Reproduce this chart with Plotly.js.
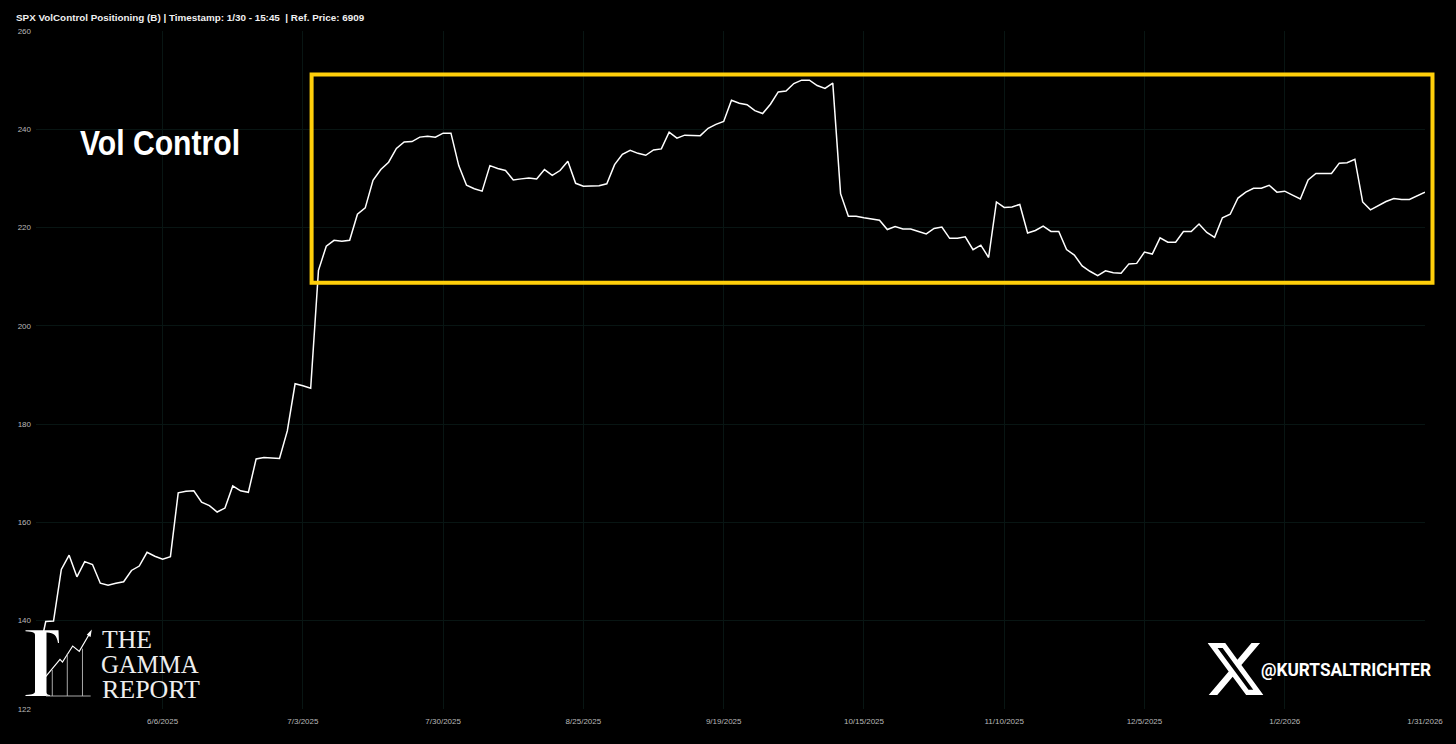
<!DOCTYPE html>
<html>
<head>
<meta charset="utf-8">
<script src="https://cdn.plot.ly/plotly-3.0.1.min.js"></script>
<style>html,body{margin:0;padding:0;background:#000;overflow:hidden}#chart{width:1456px;height:744px}</style>
</head>
<body>
<div id="chart"></div>
<script>
var chartTitle = "SPX VolControl Positioning (B) | Timestamp: 1/30 - 15:45  | Ref. Price: 6909";
var dates = [
"5/14/2025","5/15/2025","5/16/2025","5/19/2025","5/20/2025","5/21/2025","5/22/2025","5/23/2025","5/27/2025","5/28/2025","5/29/2025","5/30/2025","6/2/2025","6/3/2025","6/4/2025","6/5/2025",
"6/6/2025","6/9/2025","6/10/2025","6/11/2025","6/12/2025","6/13/2025","6/16/2025","6/17/2025","6/18/2025","6/20/2025","6/23/2025","6/24/2025","6/25/2025","6/26/2025","6/27/2025","6/30/2025","7/1/2025","7/2/2025",
"7/3/2025","7/7/2025","7/8/2025","7/9/2025","7/10/2025","7/11/2025","7/14/2025","7/15/2025","7/16/2025","7/17/2025","7/18/2025","7/21/2025","7/22/2025","7/23/2025","7/24/2025","7/25/2025","7/28/2025","7/29/2025",
"7/30/2025","7/31/2025","8/1/2025","8/4/2025","8/5/2025","8/6/2025","8/7/2025","8/8/2025","8/11/2025","8/12/2025","8/13/2025","8/14/2025","8/15/2025","8/18/2025","8/19/2025","8/20/2025","8/21/2025","8/22/2025",
"8/25/2025","8/26/2025","8/27/2025","8/28/2025","8/29/2025","9/2/2025","9/3/2025","9/4/2025","9/5/2025","9/8/2025","9/9/2025","9/10/2025","9/11/2025","9/12/2025","9/15/2025","9/16/2025","9/17/2025","9/18/2025",
"9/19/2025","9/22/2025","9/23/2025","9/24/2025","9/25/2025","9/26/2025","9/29/2025","9/30/2025","10/1/2025","10/2/2025","10/3/2025","10/6/2025","10/7/2025","10/8/2025","10/9/2025","10/10/2025","10/13/2025","10/14/2025",
"10/15/2025","10/16/2025","10/17/2025","10/20/2025","10/21/2025","10/22/2025","10/23/2025","10/24/2025","10/27/2025","10/28/2025","10/29/2025","10/30/2025","10/31/2025","11/3/2025","11/4/2025","11/5/2025","11/6/2025","11/7/2025",
"11/10/2025","11/11/2025","11/12/2025","11/13/2025","11/14/2025","11/17/2025","11/18/2025","11/19/2025","11/20/2025","11/21/2025","11/24/2025","11/25/2025","11/26/2025","11/28/2025","12/1/2025","12/2/2025","12/3/2025","12/4/2025",
"12/5/2025","12/8/2025","12/9/2025","12/10/2025","12/11/2025","12/12/2025","12/15/2025","12/16/2025","12/17/2025","12/18/2025","12/19/2025","12/22/2025","12/23/2025","12/24/2025","12/26/2025","12/29/2025","12/30/2025","12/31/2025",
"1/2/2026","1/5/2026","1/6/2026","1/7/2026","1/8/2026","1/9/2026","1/12/2026","1/13/2026","1/14/2026","1/15/2026","1/16/2026","1/20/2026","1/21/2026","1/22/2026","1/23/2026","1/26/2026","1/27/2026","1/28/2026",
"1/31/2026"];
var positioning = [
132.4,139.8,139.9,150.4,153.3,148.9,152.0,151.4,147.6,147.2,147.6,147.9,150.2,151.1,153.9,153.1,
152.5,153.0,166.0,166.3,166.4,164.1,163.4,162.1,162.9,167.4,166.4,166.1,172.9,173.2,173.1,173.0,178.6,188.2,
187.8,187.3,211.3,216.2,217.4,217.2,217.4,222.7,224.0,229.6,231.8,233.3,236.1,237.4,237.5,238.4,238.6,238.4,
239.2,239.2,232.6,228.6,227.9,227.4,232.6,232.0,231.6,229.7,229.9,230.1,229.9,231.8,230.6,231.6,233.5,229.0,
228.4,228.4,228.5,228.9,232.8,234.9,235.7,235.1,234.7,235.8,236.0,239.4,238.2,238.8,238.8,238.7,240.2,241.0,
241.6,245.9,245.3,245.0,243.8,243.2,245.1,247.6,247.8,249.3,250.0,250.0,248.9,248.3,249.4,226.9,222.3,222.3,
222.0,221.7,221.5,219.6,220.2,219.7,219.7,219.2,218.7,219.8,220.1,217.8,217.8,218.1,215.5,216.4,213.9,225.2,
224.1,224.2,224.7,218.9,219.4,220.3,219.2,219.2,215.5,214.4,212.2,211.1,210.2,211.2,210.8,210.7,212.6,212.7,
215.0,214.6,217.9,217.0,217.0,219.2,219.2,220.7,219.0,218.0,222.0,222.7,226.0,227.2,228.0,228.0,228.6,227.2,
227.4,226.6,225.8,229.7,231.0,231.0,231.0,233.1,233.2,233.9,225.2,223.6,224.4,225.3,225.9,225.7,225.7,226.5,
227.2];
var xTickLabels = ["6/6/2025","7/3/2025","7/30/2025","8/25/2025","9/19/2025","10/15/2025","11/10/2025","12/5/2025","1/2/2026","1/31/2026"];
var yTickValues = [122,140,160,180,200,220,240,260];

var W=1456,H=744,mL=36,mR=30.5,mT=30.5,mB=35;
function px(x){return (x-mL)/(W-mL-mR);}
function py(y){return 1-(y-mT)/(H-mT-mB);}
function svgUri(s){return "data:image/svg+xml;utf8,"+encodeURIComponent(s);}

var gammaSvg = '<svg xmlns="http://www.w3.org/2000/svg" viewBox="20 625 80 75" width="80" height="75">'+
 '<path fill="#fff" d="M25.5 630.3H58.5L59 643H58C57 636 54 632.5 47 632.5H46.5V692C46.5 694 47.5 694.7 50 695V696H25.5V695C33.5 694.7 35 693.5 35 691V635C35 633 33.5 631.7 25.5 631.3Z"/>'+
 '<path fill="none" stroke="#fff" stroke-width="1.2" d="M44 678.7L60 659.3L62.5 662L72.7 646L79.3 651.3L90 633"/>'+
 '<path fill="#fff" d="M91.8 629.5L90.6 637L86.8 634.6Z"/>'+
 '<path fill="none" stroke="#bbb" stroke-width="0.9" d="M52.3 670V696M67.3 653.7V696M82.5 648.7V696M46 696H90.7"/></svg>';
var xSvg = '<svg xmlns="http://www.w3.org/2000/svg" viewBox="1.25 2.25 21.65 19.5" width="216" height="195" preserveAspectRatio="none"><path fill="#fff" d="M18.244 2.25h3.308l-7.227 8.26 8.502 11.24H16.17l-5.214-6.817L4.99 21.75H1.68l7.73-8.835L1.254 2.25H8.08l4.713 6.231zm-1.161 17.52h1.833L7.084 4.126H5.117z"/></svg>';

function note(text,x,y,size,family,color){
  return {text:text,xref:"paper",yref:"paper",x:px(x),y:py(y),xanchor:"left",yanchor:"middle",showarrow:false,
    font:{family:family,size:size,color:color||"#fff"},borderpad:0,borderwidth:0,align:"left"};
}
var fittedWidths = {"Vol Control":160,"THE":50,"GAMMA":97.5,"REPORT":98,"@KURTSALTRICHTER":170};
var tick = {family:"Liberation Sans",size:8,color:"#b8b8b8"};
var trace={type:"scatter",mode:"lines",x:dates,y:positioning,line:{color:"#ffffff",width:1.5,shape:"linear"},hoverinfo:"x+y"};
var layout={
  width:W,height:H,paper_bgcolor:"#000",plot_bgcolor:"#000",showlegend:false,
  margin:{l:mL,r:mR,t:mT,b:mB,pad:0},
  font:{family:"Liberation Sans",color:"#b8b8b8",size:8},
  xaxis:{type:"category",categoryorder:"array",categoryarray:dates,range:[-0.25,dates.length-1],tickmode:"array",tickvals:xTickLabels,ticktext:xTickLabels,
    showgrid:true,gridcolor:"#081513",gridwidth:1,zeroline:false,showline:false,ticks:"",tickangle:0,tickfont:tick,ticklabelstandoff:6},
  yaxis:{type:"linear",range:[122,260],tickmode:"array",tickvals:yTickValues,showgrid:true,gridcolor:"#081513",gridwidth:1,zeroline:false,showline:false,ticks:"",tickfont:tick,ticklabelstandoff:4},
  shapes:[{type:"rect",xref:"paper",yref:"paper",x0:px(311.7),x1:px(1433),y0:py(282.5),y1:py(74),line:{color:"#FFCF0A",width:4},fillcolor:"rgba(0,0,0,0)",layer:"above"}],
  annotations:[
    note("<b>"+chartTitle.replace(/  /g,"\u00a0 ")+"</b>",16,16.5,9.85,"Liberation Sans","#f0f0f0"),
    note("<b>Vol Control</b>",80,142,35,"Liberation Sans"),
    note("THE",102.5,639.5,24.4,"Liberation Serif","#eee"),
    note("GAMMA",101.5,664.5,24.4,"Liberation Serif","#eee"),
    note("REPORT",102.5,689,24.4,"Liberation Serif","#eee"),
    note("<b>@KURTSALTRICHTER</b>",1261,669.5,18.5,"Roboto")
  ],
  images:[
    {source:svgUri(gammaSvg),xref:"paper",yref:"paper",x:px(20),y:py(625),sizex:80/(W-mL-mR),sizey:75/(H-mT-mB),xanchor:"left",yanchor:"top",sizing:"stretch",layer:"above"},
    {source:svgUri(xSvg),xref:"paper",yref:"paper",x:px(1208),y:py(643),sizex:56/(W-mL-mR),sizey:52/(H-mT-mB),xanchor:"left",yanchor:"top",sizing:"stretch",layer:"above"}
  ]
};
Plotly.newPlot("chart",[trace],layout,{displayModeBar:false,staticPlot:true}).then(function(gd){
  gd.querySelectorAll("text.annotation-text").forEach(function(t){
    var w=fittedWidths[t.textContent];
    if(w){t.setAttribute("textLength",w);t.setAttribute("lengthAdjust","spacingAndGlyphs");}
  });
});
</script>
</body>
</html>
